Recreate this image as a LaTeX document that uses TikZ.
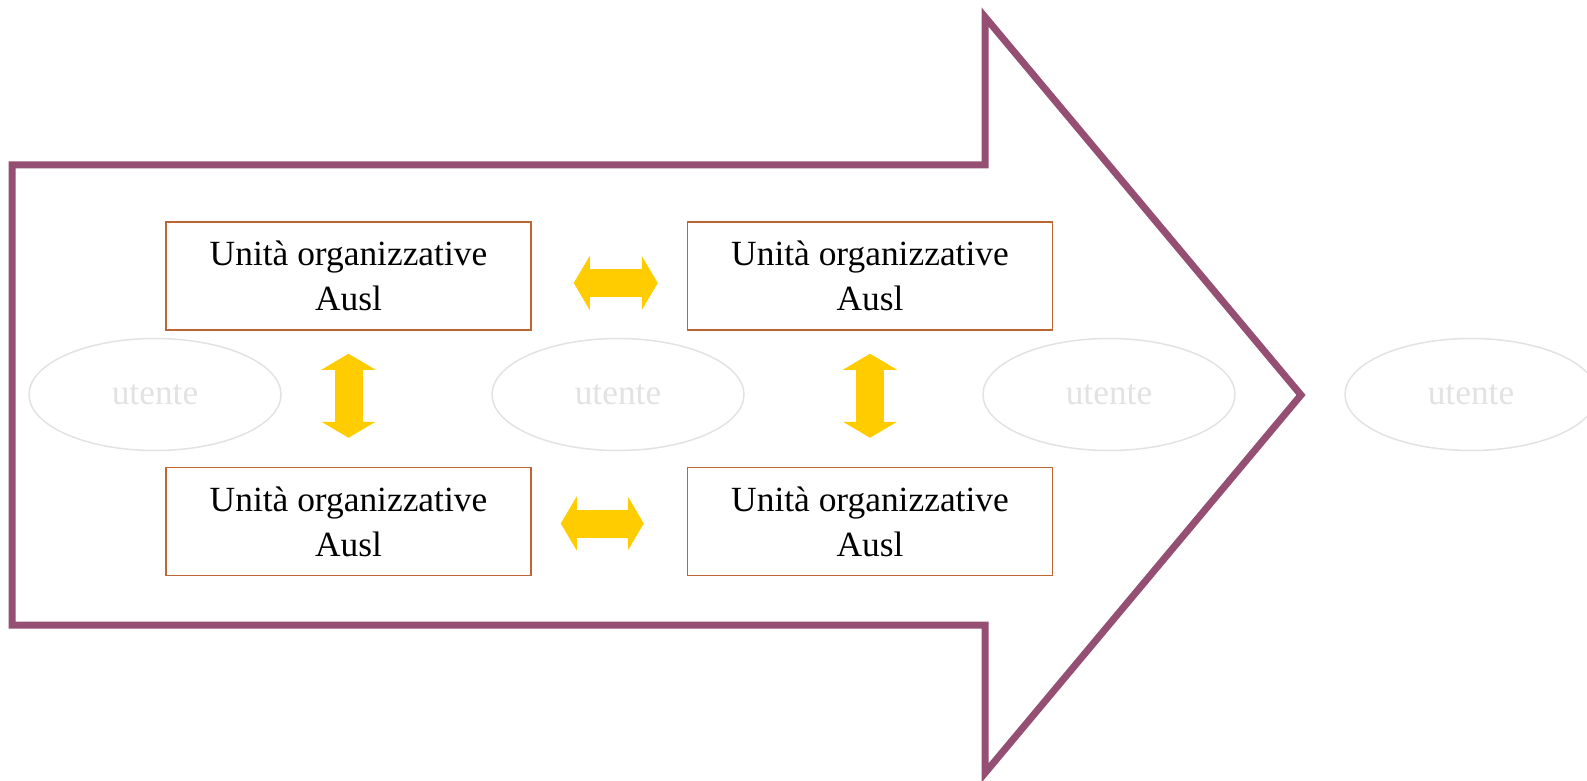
\documentclass[tikz,border=0pt]{standalone}
\usepackage{fontspec}
\setmainfont{Liberation Serif}
\usetikzlibrary{positioning}
\usetikzlibrary{arrows.meta}
\usetikzlibrary{shapes.geometric}

\definecolor{plum}{RGB}{148,79,114}
\definecolor{rust}{RGB}{192,102,52}
\definecolor{gold}{RGB}{255,204,0}
\definecolor{faint}{RGB}{226,226,226}

\tikzset{
  unit/.style={draw=rust, line width=0.75pt, minimum width=182.5pt, minimum height=54pt,
    inner sep=0pt, align=center, font=\fontsize{17.7}{22.5}\selectfont},
  user/.style={ellipse, draw=faint, line width=0.75pt, minimum width=126pt, minimum height=56pt,
    text=faint, font=\fontsize{17.7}{22.5}\selectfont},
  link/.style={draw=gold, line width=14pt,
    {Triangle[length=8pt,width=27pt,line width=0.5pt]}-{Triangle[length=8pt,width=27pt,line width=0.5pt]}},
  flow/.style={draw=plum, line width=3.5pt, line join=miter}
}

\begin{document}
\begin{tikzpicture}[x=0.5pt, y=-0.5pt]
    \useasboundingbox (0,0) rectangle (1587,781);

    % Big arrow
    \draw[flow] (12,165) -- (985,165) -- (985,17) -- (1301,395) -- (985,773) -- (985,625) -- (12,625) -- cycle;

    % Users
    \node[user] (p1) at (155,394.5) {utente};
    \node[user] (p2) at (618,394.5) {utente};
    \node[user] (p3) at (1109,394.5) {utente};
    \node[user] (p4) at (1471,394.5) {utente};

    % Units
    \node[unit] (u1) at (348.5,276) {Unità organizzative\\Ausl};
    \node[unit, right=77.5pt of u1] (u2) {Unità organizzative\\Ausl};
    \node[unit, below=68pt of u1] (u3) {Unità organizzative\\Ausl};
    \node[unit, below=68pt of u2] (u4) {Unità organizzative\\Ausl};

    % Links
    \draw[link] ([xshift=21pt,yshift=-3.5pt]u1.east) -- ([xshift=-14.5pt,yshift=-3.5pt]u2.west);
    \draw[link] ([xshift=14.5pt,yshift=-1pt]u3.east) -- ([xshift=-21.5pt,yshift=-1pt]u4.west);
    \draw[link] ([yshift=-11.5pt]u1.south) -- ([yshift=14.5pt]u3.north);
    \draw[link] ([yshift=-11.5pt]u2.south) -- ([yshift=14.5pt]u4.north);
\end{tikzpicture}
\end{document}
